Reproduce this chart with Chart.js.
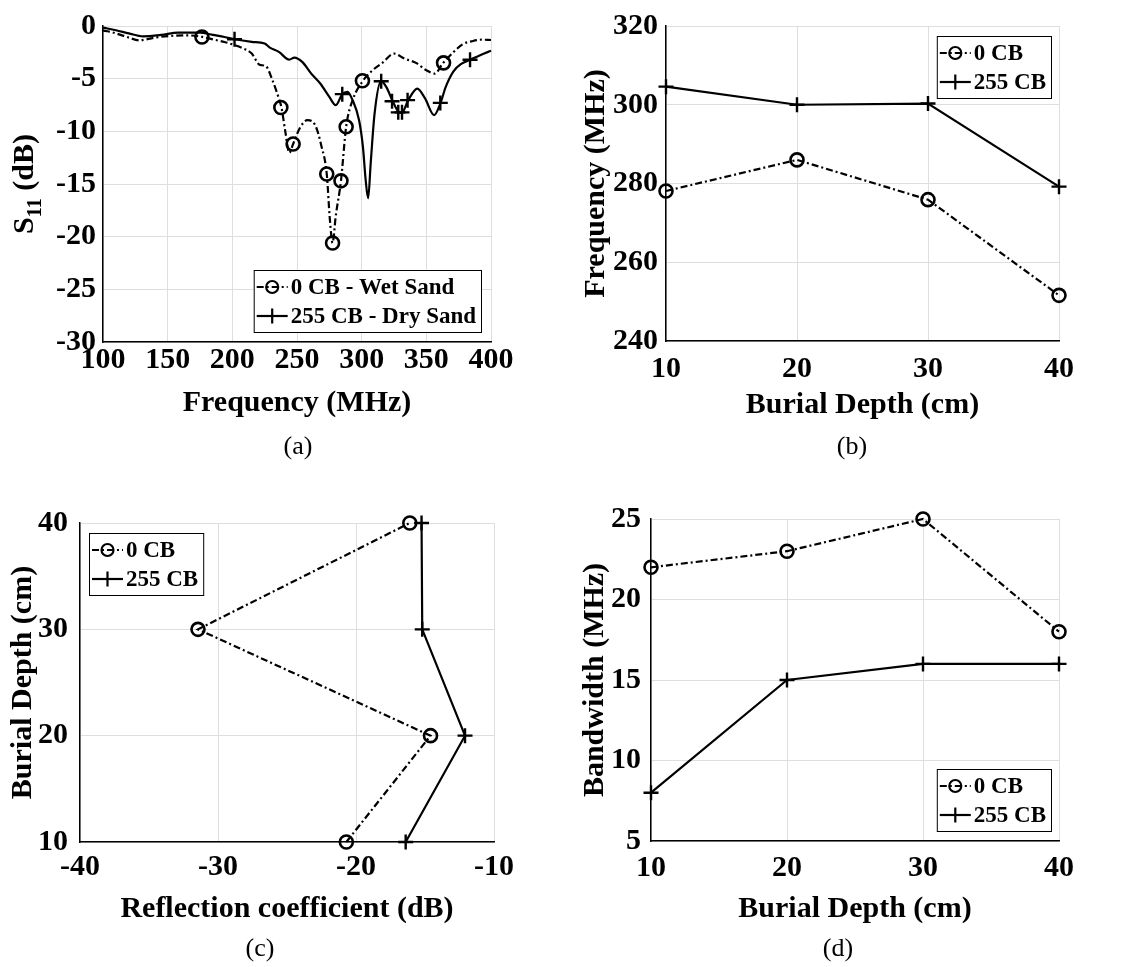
<!DOCTYPE html>
<html>
<head>
<meta charset="utf-8">
<script src="https://cdn.jsdelivr.net/npm/chart.js@4.4.1/dist/chart.umd.min.js"></script>
<style>
  body { margin: 0; background: #fff; }
  #page { position: relative; width: 1135px; height: 967px; overflow: hidden; }
  canvas { position: absolute; }
  .cap { position: absolute; font-family: "Liberation Serif", serif; font-size: 26px; transform: translate(-50%, -50%); }
</style>
</head>
<body>
<div id="page">
  <canvas id="chartA" width="560" height="450" style="left:0;top:0"></canvas>
  <canvas id="chartB" width="575" height="450" style="left:560px;top:0"></canvas>
  <canvas id="chartC" width="560" height="497" style="left:0;top:470px"></canvas>
  <canvas id="chartD" width="575" height="497" style="left:560px;top:470px"></canvas>
  <div class="cap" style="left:298px;top:446px">(a)</div>
  <div class="cap" style="left:852px;top:446px">(b)</div>
  <div class="cap" style="left:260px;top:948px">(c)</div>
  <div class="cap" style="left:838px;top:948px">(d)</div>
</div>
<script>
// S11 sweep, 0 CB in wet sand
const freqWet = [100, 110, 120, 128, 140, 155, 165, 177, 186, 194, 200, 208, 215, 221, 226, 231, 236, 238, 241, 244, 247, 252, 258, 264, 269, 273, 275.5, 277.5, 280, 284, 288, 293, 301, 309, 316, 325, 333, 342, 350, 356.5, 363, 370, 378, 386, 393, 400];
const s11Wet = [-0.41, -0.7, -1.1, -1.36, -1.1, -0.92, -0.89, -1.04, -1.3, -1.52, -1.74, -2.1, -2.62, -3.67, -3.82, -5.15, -6.9, -7.74, -10.05, -12.04, -11.2, -9.73, -8.94, -9.4, -11.46, -14.05, -18.5, -20.6, -18.0, -14.7, -9.57, -7.04, -5.2, -4.14, -3.5, -2.62, -3.09, -3.5, -4.2, -4.52, -3.5, -2.6, -1.74, -1.42, -1.3, -1.33];
const markFreqWet = [176.5, 237.5, 247, 273, 277.5, 284, 288, 300.6, 363.3];
const markS11Wet = [-1.04, -7.74, -11.2, -14.05, -20.6, -14.7, -9.57, -5.2, -3.5];

// S11 sweep, 255 CB in dry sand
const freqDry = [100, 110, 120, 131, 145, 158, 175, 185, 194, 202, 215, 225, 229, 236, 244, 248, 254, 261, 268, 275, 280, 285, 289, 293, 298, 301, 303, 305, 307, 310, 315, 319, 324, 329, 331, 336, 343, 349, 356, 361, 365, 371, 377, 384, 392, 400];
const s11Dry = [-0.16, -0.4, -0.7, -0.98, -0.85, -0.63, -0.63, -0.85, -1.04, -1.26, -1.5, -1.67, -2.05, -2.46, -3.19, -3.0, -3.41, -4.52, -5.46, -6.73, -7.52, -6.47, -6.25, -7.04, -8.94, -11.5, -14.5, -16.36, -13.0, -8.3, -5.24, -5.78, -7.14, -8.2, -8.25, -7.04, -5.94, -6.88, -8.46, -7.3, -5.78, -4.3, -3.6, -3.2, -2.75, -2.35];
const markFreqDry = [201.7, 285, 315.1, 323.5, 328.3, 331.2, 335.5, 360.8, 383.8];
const markS11Dry = [-1.26, -6.47, -5.24, -7.14, -8.2, -8.2, -7.04, -7.3, -3.2];

// results against burial depth
const depths = [10, 20, 30, 40];
const resFreq0 = [278.1, 286.0, 275.9, 251.6];
const resFreq255 = [304.6, 300.0, 300.3, 279.2];
const refl0 = [-20.7, -14.6, -31.45, -16.1];
const refl255 = [-16.4, -12.1, -15.2, -15.25];
const bw0 = [22, 23, 25, 18];
const bw255 = [8, 15, 16, 16];

// tick labels
const freqTicks = [100, 150, 200, 250, 300, 350, 400];
const s11Ticks = [-30, -25, -20, -15, -10, -5, 0];
const depthTicks = [10, 20, 30, 40];
const resFreqTicks = [240, 260, 280, 300, 320];
const reflTicks = [-40, -30, -20, -10];
const bwTicks = [5, 10, 15, 20, 25];

const serif = '"Liberation Serif", "Times New Roman", serif';
Chart.defaults.font.family = serif;
Chart.defaults.font.weight = 'bold';
Chart.defaults.color = '#000';
Chart.defaults.plugins.legend.display = false;
Chart.defaults.plugins.tooltip.enabled = false;

const gridColor = '#dedede';
const pts = (xs, ys) => xs.map((x, i) => ({ x: x, y: ys[i] }));

const wetLine = { borderColor: '#000', borderWidth: 2.2, borderDash: [7, 3, 2, 3] };
const dryLine = { borderColor: '#000', borderWidth: 2.2, borderDash: [] };
const circleMark = { pointStyle: 'circle', pointRadius: 6.5, pointBorderWidth: 2.6, pointBorderColor: '#000', pointBackgroundColor: 'rgba(0,0,0,0)' };
const crossMark = { pointStyle: 'cross', pointRadius: 7.5, pointBorderWidth: 2.4, pointBorderColor: '#000', pointBackgroundColor: 'rgba(0,0,0,0)' };

function axis(min, max, tickVals, o) {
  return {
    type: 'linear', min: min, max: max,
    afterBuildTicks: s => { s.ticks = tickVals.map(v => ({ value: v })); },
    afterFit: s => { if (s.isHorizontal()) s.height = o.size; else s.width = o.size; },
    grid: { color: gridColor, lineWidth: 1, drawTicks: false },
    border: { color: '#000', width: 1.5 },
    ticks: { font: { size: 30 }, padding: o.pad, color: '#000' },
    title: { display: !!o.title, text: o.title, font: { size: 30 }, padding: 0, color: '#000' }
  };
}

// MATLAB-style legend box: line sample with marker, then the label
const boxLegend = {
  id: 'boxLegend',
  afterDraw(chart, args, opts) {
    const { ctx, chartArea } = chart;
    ctx.save();
    ctx.font = 'bold 23px ' + serif;
    const textW = Math.max(...opts.items.map(it => ctx.measureText(it.text).width));
    const rowH = 29;
    const w = 37 + textW + 5;
    const h = opts.items.length * rowH + 4;
    const x0 = opts.corner.includes('e') ? chartArea.right - opts.dx - w : chartArea.left + opts.dx;
    const y0 = opts.corner.includes('s') ? chartArea.bottom - opts.dy - h : chartArea.top + opts.dy;
    ctx.fillStyle = '#fff';
    ctx.fillRect(x0, y0, w, h);
    ctx.strokeStyle = '#000';
    ctx.lineWidth = 1;
    ctx.strokeRect(x0 + 0.5, y0 + 0.5, w, h);
    opts.items.forEach((it, i) => {
      const cy = y0 + 2.5 + rowH * (i + 0.5);
      const cx = x0 + 18.5;
      ctx.lineWidth = 2.2;
      ctx.setLineDash(it.dash);
      ctx.beginPath();
      ctx.moveTo(x0 + 3, cy);
      ctx.lineTo(x0 + 34, cy);
      ctx.stroke();
      ctx.setLineDash([]);
      ctx.beginPath();
      if (it.marker === 'circle') {
        ctx.arc(cx, cy, 6, 0, Math.PI * 2);
      } else {
        ctx.moveTo(cx - 7.5, cy); ctx.lineTo(cx + 7.5, cy);
        ctx.moveTo(cx, cy - 7.5); ctx.lineTo(cx, cy + 7.5);
      }
      ctx.stroke();
      ctx.fillStyle = '#000';
      ctx.textAlign = 'left';
      ctx.textBaseline = 'middle';
      ctx.fillText(it.text, x0 + 37, cy + 1);
    });
    ctx.restore();
  }
};

// y title with subscript for S11
const s11Title = {
  id: 's11Title',
  afterDraw(chart) {
    const { ctx, chartArea } = chart;
    const big = 'bold 30px ' + serif, small = 'bold 20px ' + serif;
    ctx.save();
    ctx.translate(25, (chartArea.top + chartArea.bottom) / 2);
    ctx.rotate(-Math.PI / 2);
    ctx.fillStyle = '#000';
    ctx.textBaseline = 'middle';
    ctx.textAlign = 'left';
    ctx.font = big; const wS = ctx.measureText('S').width; const wT = ctx.measureText(' (dB)').width;
    ctx.font = small; const wN = ctx.measureText('11').width;
    let x = -(wS + wN + wT) / 2;
    ctx.font = big; ctx.fillText('S', x, 0); x += wS;
    ctx.font = small; ctx.fillText('11', x, 11); x += wN;
    ctx.font = big; ctx.fillText(' (dB)', x, 0);
    ctx.restore();
  }
};

const depthItems = [
  { text: '0 CB', dash: wetLine.borderDash, marker: 'circle' },
  { text: '255 CB', dash: [], marker: 'cross' }
];

const base = { responsive: false, animation: false, events: [] };

new Chart(document.getElementById('chartA'), {
  type: 'line',
  data: {
    datasets: [
      { ...wetLine, data: pts(freqWet, s11Wet), pointRadius: 0, cubicInterpolationMode: 'monotone', clip: false },
      { ...dryLine, data: pts(freqDry, s11Dry), pointRadius: 0, cubicInterpolationMode: 'monotone', clip: false },
      { ...circleMark, data: pts(markFreqWet, markS11Wet), showLine: false, clip: false },
      { ...crossMark, data: pts(markFreqDry, markS11Dry), showLine: false, clip: false }
    ]
  },
  options: {
    ...base,
    layout: { padding: { left: 0, top: 26, right: 69, bottom: 29 } },
    scales: {
      x: axis(100, 400, freqTicks, { size: 79, pad: 0, title: 'Frequency (MHz)' }),
      y: axis(-30, 0, s11Ticks, { size: 103, pad: 7 })
    },
    plugins: {
      boxLegend: { corner: 'se', dx: 10, dy: 10, items: [
        { text: '0 CB - Wet Sand', dash: wetLine.borderDash, marker: 'circle' },
        { text: '255 CB - Dry Sand', dash: [], marker: 'cross' }
      ] }
    }
  },
  plugins: [boxLegend, s11Title]
});

new Chart(document.getElementById('chartB'), {
  type: 'line',
  data: {
    datasets: [
      { ...wetLine, ...circleMark, data: pts(depths, resFreq0), clip: false },
      { ...dryLine, ...crossMark, data: pts(depths, resFreq255), clip: false }
    ]
  },
  options: {
    ...base,
    layout: { padding: { left: 18, top: 18, right: 76, bottom: 27 } },
    scales: {
      x: axis(10, 40, depthTicks, { size: 82, pad: 10, title: 'Burial Depth (cm)' }),
      y: axis(240, 320, resFreqTicks, { size: 88, pad: 8, title: 'Frequency (MHz)' })
    },
    plugins: { boxLegend: { corner: 'ne', dx: 8, dy: 10, items: depthItems } }
  },
  plugins: [boxLegend]
});

new Chart(document.getElementById('chartC'), {
  type: 'line',
  data: {
    datasets: [
      { ...wetLine, ...circleMark, data: pts(refl0, depths), clip: false },
      { ...dryLine, ...crossMark, data: pts(refl255, depths), clip: false }
    ]
  },
  options: {
    ...base,
    layout: { padding: { left: 5, top: 53, right: 66, bottom: 40 } },
    scales: {
      x: axis(-40, -10, reflTicks, { size: 85, pad: 7, title: 'Reflection coefficient (dB)' }),
      y: axis(10, 40, depthTicks, { size: 75, pad: 12, title: 'Burial Depth (cm)' })
    },
    plugins: { boxLegend: { corner: 'nw', dx: 9, dy: 10, items: depthItems } }
  },
  plugins: [boxLegend]
});

new Chart(document.getElementById('chartD'), {
  type: 'line',
  data: {
    datasets: [
      { ...wetLine, ...circleMark, data: pts(depths, bw0), clip: false },
      { ...dryLine, ...crossMark, data: pts(depths, bw255), clip: false }
    ]
  },
  options: {
    ...base,
    layout: { padding: { left: 17, top: 49, right: 76, bottom: 40 } },
    scales: {
      x: axis(10, 40, depthTicks, { size: 86, pad: 9, title: 'Burial Depth (cm)' }),
      y: axis(5, 25, bwTicks, { size: 74, pad: 10, title: 'Bandwidth (MHz)' })
    },
    plugins: { boxLegend: { corner: 'se', dx: 8, dy: 10, items: depthItems } }
  },
  plugins: [boxLegend]
});
</script>
</body>
</html>
